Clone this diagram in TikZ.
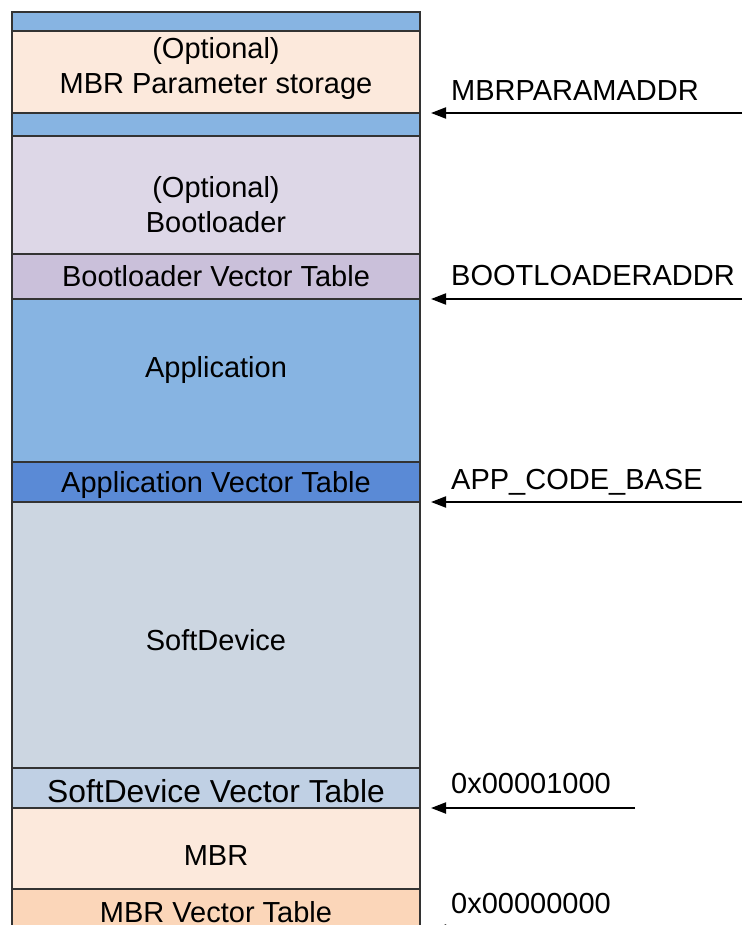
\documentclass[tikz,border=0pt]{standalone}
\usepackage{fontspec}
\setmainfont{Liberation Sans}
\usetikzlibrary{arrows.meta}
\definecolor{cblue}{HTML}{87B4E2}
\definecolor{cpeach}{HTML}{FCE9DC}
\definecolor{clav}{HTML}{DDD7E7}
\definecolor{cblvt}{HTML}{CAC0DA}
\definecolor{cappvt}{HTML}{5A8AD6}
\definecolor{csd}{HTML}{CCD6E1}
\definecolor{csdvt}{HTML}{C0D0E4}
\definecolor{cmbrvt}{HTML}{FBD6B9}
\definecolor{cborder}{HTML}{333333}
\tikzset{
  seg/.style={draw=cborder, line width=1.5pt, anchor=north west, inner sep=0pt, outer sep=0pt,
    minimum width=408pt},
  txt/.style={inner sep=0pt, align=center, font=\fontsize{29}{35}\selectfont},
  addr/.style={anchor=base west, inner sep=0pt, font=\fontsize{29}{35}\selectfont},
  ptr/.style={line width=2pt, -{Triangle[length=15pt,width=11pt]}}
}
\begin{document}
\begin{tikzpicture}[x=1pt,y=-1pt]
\useasboundingbox (0,0) rectangle (742,925);
\clip (0,0) rectangle (742,925);
\node[seg, fill=cblue, minimum height=19pt] (top) at (12,12) {};
\node[seg, fill=cpeach, minimum height=82pt] (param) at (12,31) {};
\node[seg, fill=cblue, minimum height=23pt] (gap) at (12,113) {};
\node[seg, fill=clav, minimum height=118pt] (bl) at (12,136) {};
\node[seg, fill=cblvt, minimum height=45pt] (blvt) at (12,254) {};
\node[seg, fill=cblue, minimum height=163pt] (app) at (12,299) {};
\node[seg, fill=cappvt, minimum height=40pt] (appvt) at (12,462) {};
\node[seg, fill=csd, minimum height=266pt] (sd) at (12,502) {};
\node[seg, fill=csdvt, minimum height=40pt] (sdvt) at (12,768) {};
\node[seg, fill=cpeach, minimum height=81pt] (mbr) at (12,808) {};
\node[seg, fill=cmbrvt, minimum height=46pt] (mbrvt) at (12,889) {};

\node[txt] (tparam) at (216,69) {(Optional)\\MBR Parameter storage};
\node[txt] (tbl) at (216,204.5) {(Optional)\\Bootloader};
\node[txt] (tblvt) at (216,276.5) {Bootloader Vector Table};
\node[txt] (tapp) at (216,370.5) {Application};
\node[txt] (tappvt) at (216,485) {Application Vector Table};
\node[txt] (tsd) at (216,640) {SoftDevice};
\node[txt, font=\fontsize{31.8}{35}\selectfont] (tsdvt) at (216,791) {SoftDevice Vector Table};
\node[txt] (tmbr) at (216,855.5) {MBR};
\node[txt] (tmbrvt) at (216,912) {MBR Vector Table};

\node[addr] (l1) at (451,101) {MBRPARAMADDR};
\node[addr] (l2) at (451,285) {BOOTLOADERADDR};
\node[addr] (l3) at (451,489) {APP\_CODE\_BASE};
\node[addr] (l4) at (451,793) {0x00001000};
\node[addr] (l5) at (451,913) {0x00000000};

\coordinate (s1) at (742,113);
\coordinate (s2) at (742,299);
\coordinate (s3) at (742,502);
\coordinate (s4) at (635,808);
\coordinate (s5) at (635,930);
\draw[ptr] (s1) -- ([xshift=11pt]param.south east);
\draw[ptr] (s2) -- ([xshift=11pt]blvt.south east);
\draw[ptr] (s3) -- ([xshift=11pt]appvt.south east);
\draw[ptr] (s4) -- ([xshift=11pt]sdvt.south east);
\draw[ptr] (s5) -- ([xshift=11pt]mbrvt.south east |- s5);
\end{tikzpicture}
\end{document}
